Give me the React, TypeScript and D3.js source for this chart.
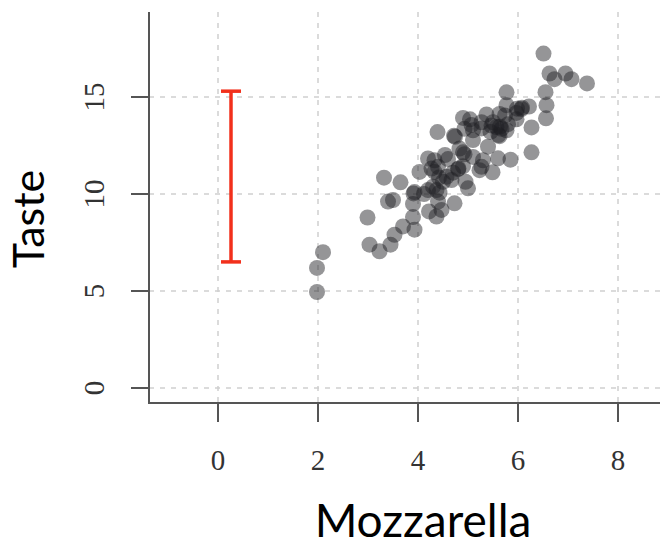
import * as d3 from "d3";

// Mozzarella (x) and Taste (y)
const mozzarella = [
  6.51, 6.63, 6.73, 6.95, 7.07, 7.38, 5.77, 6.55, 6.57, 6.56, 6.27, 6.27, 6.22, 6.07, 5.97, 5.77, 5.97, 5.63, 5.37, 5.57,
  5.67, 5.47, 5.77, 5.27, 5.63, 4.9, 5.04, 5.1, 5.1, 4.93, 4.39, 4.74, 4.72, 5.4, 4.9, 4.93, 4.83, 5.1, 5.6, 5.85,
  4.54, 4.2, 4.33, 5.3, 5.27, 5.23, 5.49, 4.9, 4.8, 4.03, 4.27, 4.33, 4.4, 4.57, 4.67, 4.95, 5.0, 3.32, 3.65, 3.91,
  3.93, 4.2, 4.37, 4.43, 4.3, 4.5, 3.4, 3.5, 3.9, 4.22, 4.37, 4.47, 4.73, 4.4, 2.99, 3.9, 3.93, 3.7, 3.53, 3.45,
  3.03, 3.23, 2.1, 1.98, 1.98, 5.98, 6.08, 5.64, 5.5, 5.8, 5.07, 5.27, 5.61, 4.81, 4.42, 4.6, 5.45, 5.74, 4.12, 4.7,
];
const taste = [
  17.24, 16.21, 15.92, 16.21, 15.92, 15.7, 15.24, 15.25, 14.58, 13.9, 13.43, 12.15, 14.51, 14.38, 14.18, 14.58, 13.85, 14.13, 14.1, 13.45,
  13.36, 13.53, 13.28, 13.38, 12.98, 13.92, 13.85, 13.28, 12.78, 13.36, 13.19, 12.95, 13.0, 12.44, 12.15, 12.05, 12.34, 11.91, 11.84, 11.77,
  12.01, 11.83, 11.74, 11.74, 11.4, 11.23, 11.12, 11.43, 11.28, 11.14, 11.31, 11.14, 11.4, 10.89, 10.72, 10.63, 10.29, 10.84, 10.6, 10.03,
  10.1, 10.2, 10.2, 10.07, 10.38, 10.63, 9.61, 9.69, 9.49, 9.1, 8.84, 9.18, 9.52, 9.61, 8.79, 8.81, 8.16, 8.33, 7.9, 7.39,
  7.39, 7.05, 7.0, 6.19, 4.95, 14.4, 14.45, 13.47, 13.7, 13.6, 13.56, 13.7, 13.04, 11.32, 10.85, 11.8, 13.2, 14.05, 10.0, 11.1,
];

const xTicks = [0, 2, 4, 6, 8];
const yTicks = [0, 5, 10, 15];

// the red range bar on the left
const barX = 0.26;
const barLow = 6.5;
const barHigh = 15.3;

const W = 667;
const H = 548;

export default function App() {
  const x = d3.scaleLinear().domain([0, 8]).range([218, 618]);
  const y = d3.scaleLinear().domain([0, 15]).range([388, 97]);

  const left = 149;
  const bottom = 403;
  const top = 12;
  const right = 660;

  const points = mozzarella.map((m, i) => ({ m, t: taste[i] }));

  return (
    <svg width={W} height={H} style={{ position: "absolute", left: 0, top: 0, background: "#fff" }}>
      {/* grid */}
      <g stroke="#d0d0d0" strokeWidth={1.5} strokeDasharray="5,6">
        {xTicks.map((t) => (
          <line key={"gx" + t} x1={x(t)} x2={x(t)} y1={top} y2={bottom} />
        ))}
        {yTicks.map((t) => (
          <line key={"gy" + t} x1={left} x2={right} y1={y(t)} y2={y(t)} />
        ))}
      </g>

      {/* points */}
      <g>
        {points.map((p, i) => (
          <circle key={i} cx={x(p.m)} cy={y(p.t)} r={8} fill="#1e1e22" fillOpacity={0.47} />
        ))}
      </g>

      {/* error bar */}
      <g stroke="#f2301c" strokeWidth={3.5}>
        <line x1={x(barX)} x2={x(barX)} y1={y(barLow)} y2={y(barHigh)} />
        <line x1={x(barX) - 10} x2={x(barX) + 10} y1={y(barLow)} y2={y(barLow)} />
        <line x1={x(barX) - 10} x2={x(barX) + 10} y1={y(barHigh)} y2={y(barHigh)} />
      </g>

      {/* axes */}
      <g stroke="#555" strokeWidth={2} fill="none">
        <path d={`M${left},${top}V${bottom}H${right}`} />
        {xTicks.map((t) => (
          <line key={"tx" + t} x1={x(t)} x2={x(t)} y1={bottom} y2={bottom + 19} />
        ))}
        {yTicks.map((t) => (
          <line key={"ty" + t} x1={left} x2={left - 18} y1={y(t)} y2={y(t)} />
        ))}
      </g>

      <g fontFamily="'Liberation Serif', 'DejaVu Serif', serif" fontSize={29} fill="#333">
        {xTicks.map((t) => (
          <text key={"lx" + t} x={x(t)} y={470} textAnchor="middle">
            {t}
          </text>
        ))}
        {yTicks.map((t) => (
          <text key={"ly" + t} transform={`translate(104,${y(t)}) rotate(-90)`} textAnchor="middle">
            {t}
          </text>
        ))}
      </g>

      <text x={423} y={537} textAnchor="middle" fontFamily="Lato, 'Open Sans', sans-serif" fontSize={46} fill="#000">
        Mozzarella
      </text>
      <text
        transform="translate(44,219) rotate(-90)"
        textAnchor="middle"
        fontFamily="Lato, 'Open Sans', sans-serif"
        fontSize={43}
        fill="#000"
      >
        Taste
      </text>
    </svg>
  );
}
